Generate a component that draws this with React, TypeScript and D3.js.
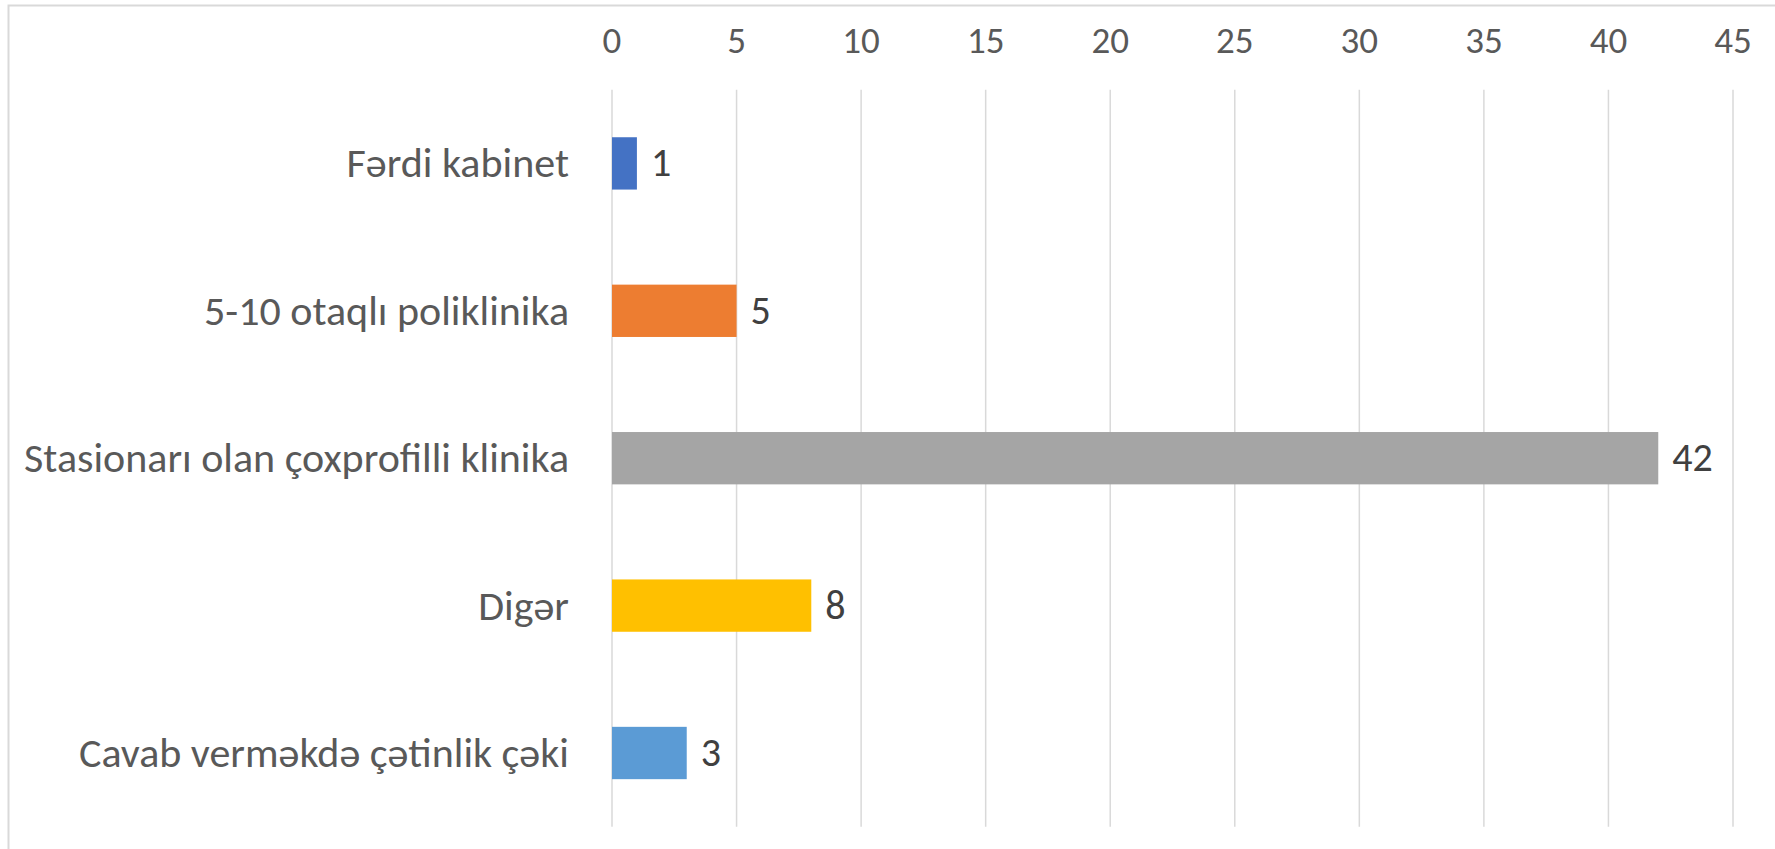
import React from 'react';
import * as d3 from 'd3';

// Excel-style horizontal bar chart, axis labels on top

const categories = [
  'Fərdi kabinet',
  '5-10 otaqlı poliklinika',
  'Stasionarı olan çoxprofilli klinika',
  'Digər',
  'Cavab verməkdə çətinlik çəki',
];
const values = [1, 5, 42, 8, 3];
const barColors = ['#4472C4', '#ED7D31', '#A5A5A5', '#FFC000', '#5B9BD5'];
const xTicks = [0, 5, 10, 15, 20, 25, 30, 35, 40, 45];

const WIDTH = 1775;
const HEIGHT = 849;
const FONT = 'Carlito, Calibri, Lato, "Noto Sans", sans-serif';

export default function App() {
  const x = d3.scaleLinear().domain([0, 45]).range([612, 1733]);
  const y = d3
    .scaleBand<string>()
    .domain(categories)
    .range([89.7, 826.7])
    .paddingInner(0.645)
    .paddingOuter(0.3225);

  const [plotTop, plotBottom] = [89.7, 826.7];

  return (
    <div style={{ position: 'fixed', left: 0, top: 0, background: '#fff' }}>
      <svg width={WIDTH} height={HEIGHT} style={{ display: 'block' }}>
        <rect x={0} y={0} width={WIDTH} height={HEIGHT} fill="#fff" />
        {/* chart frame */}
        <rect
          x={8.5}
          y={5.5}
          width={WIDTH + 20}
          height={HEIGHT + 20}
          fill="none"
          stroke="#D9D9D9"
          strokeWidth={2}
        />

        {/* grid */}
        {xTicks.map((t) => (
          <line
            key={'g' + t}
            x1={x(t)}
            x2={x(t)}
            y1={plotTop}
            y2={plotBottom}
            stroke="#D9D9D9"
            strokeWidth={1.5}
          />
        ))}

        {/* tick labels */}
        {xTicks.map((t) => (
          <text
            key={'t' + t}
            x={x(t)}
            y={53}
            textAnchor="middle"
            fontFamily={FONT}
            fontSize={37}
            fill="#595959"
          >
            {t}
          </text>
        ))}

        {/* bars */}
        {categories.map((c, i) => (
          <rect
            key={'b' + c}
            x={x(0)}
            y={y(c)}
            width={x(values[i]) - x(0)}
            height={y.bandwidth()}
            fill={barColors[i]}
          />
        ))}

        {/* category labels */}
        {categories.map((c) => (
          <text
            key={'c' + c}
            x={569}
            y={(y(c) as number) + y.bandwidth() / 2 + 14}
            textAnchor="end"
            fontFamily={FONT}
            fontSize={42}
            fill="#595959"
          >
            {c}
          </text>
        ))}

        {/* data labels */}
        {categories.map((c, i) => (
          <text
            key={'v' + c}
            x={x(values[i]) + 14}
            y={(y(c) as number) + y.bandwidth() / 2 + 13}
            fontFamily={FONT}
            fontSize={40}
            fill="#404040"
          >
            {values[i]}
          </text>
        ))}
      </svg>
    </div>
  );
}
